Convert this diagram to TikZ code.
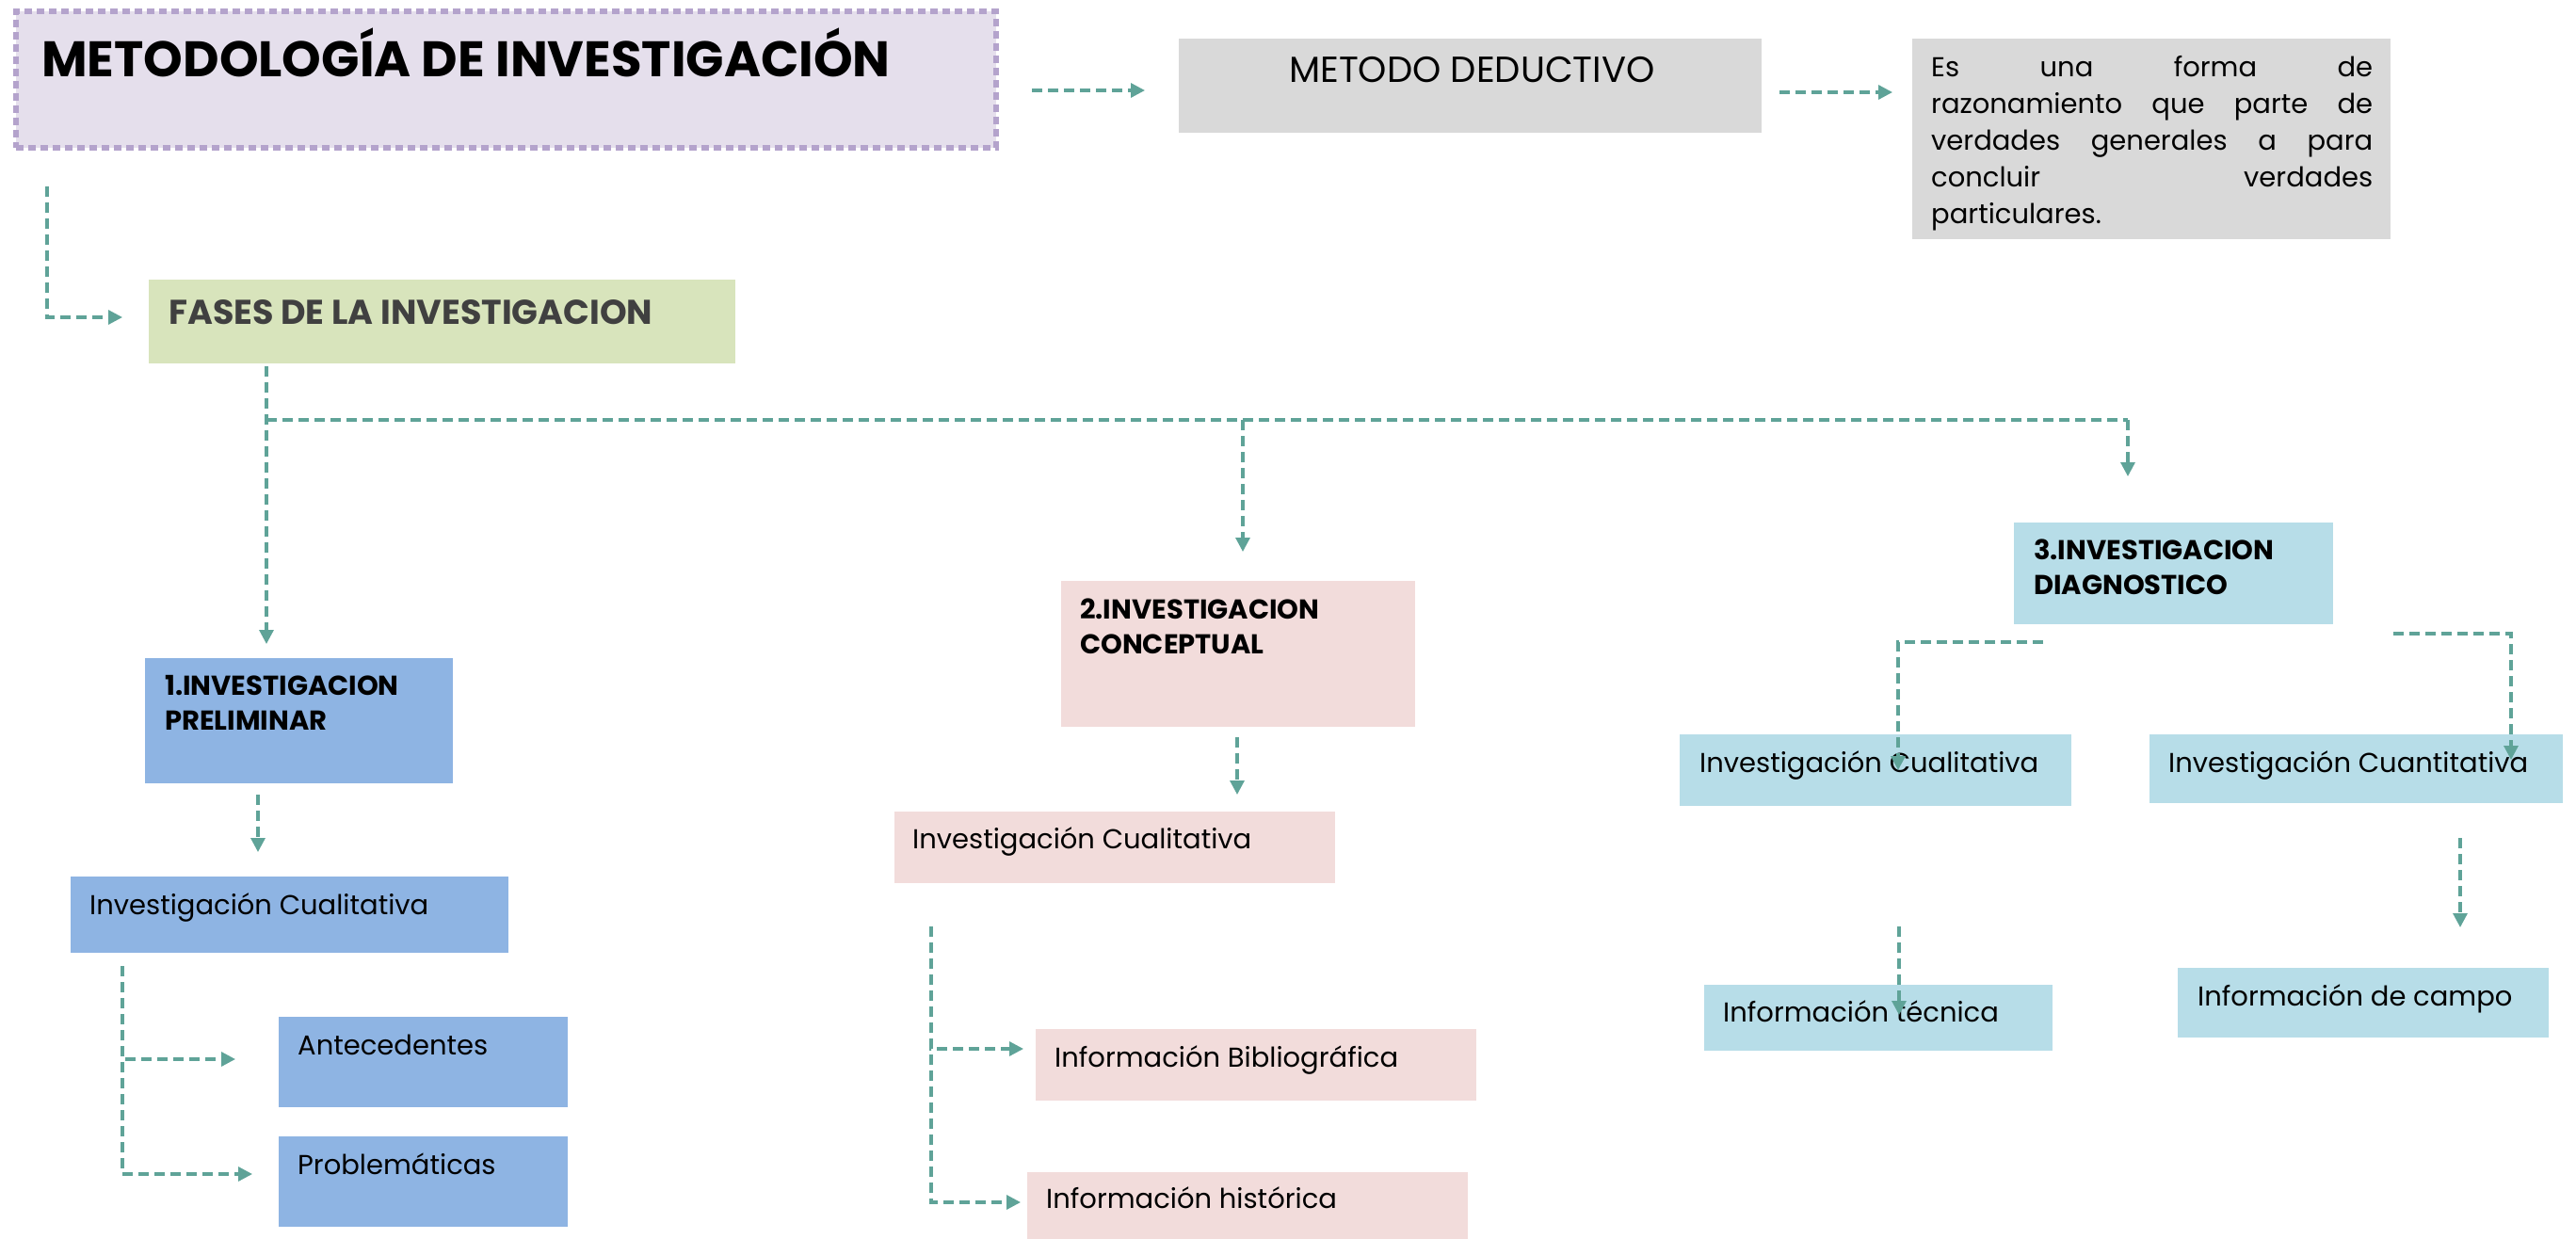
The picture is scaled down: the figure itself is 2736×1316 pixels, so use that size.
\documentclass[tikz,border=0pt]{standalone}
\usepackage{fontspec}
\setmainfont{Poppins}
\usetikzlibrary{arrows.meta}
\definecolor{teal}{RGB}{95,163,152}
\definecolor{lilac}{RGB}{229,223,236}
\definecolor{lilacb}{RGB}{180,163,204}
\definecolor{sage}{RGB}{216,228,188}
\definecolor{grayb}{RGB}{217,217,217}
\definecolor{blueb}{RGB}{142,180,227}
\definecolor{pinkb}{RGB}{242,220,219}
\definecolor{cyanb}{RGB}{183,221,232}
\tikzset{
  box/.style={anchor=north west, inner sep=0pt, outer sep=0pt, draw=none},
  txt/.style={anchor=base west, inner sep=0pt, font=\fontsize{29}{35}\selectfont},
  btxt/.style={anchor=base west, inner sep=0pt, align=left, font=\fontsize{29}{37}\selectfont\bfseries},
  conn/.style={draw=teal, line width=3.2pt, dash pattern=on 11pt off 6pt, -{Triangle[length=15pt,width=15pt]}},
  connl/.style={draw=teal, line width=3.2pt, dash pattern=on 11pt off 6pt},
}
\begin{document}
\begin{tikzpicture}[x=1pt,y=-1pt]
\useasboundingbox (0,0) rectangle (2736,1316);
% title
\node[box, fill=lilac, draw=lilacb, line width=6pt, dash pattern=on 8pt off 5pt, minimum width=1041pt, minimum height=145pt] (title) at (17,12) {};
\node[anchor=base west, inner sep=0pt, font=\fontsize{53}{60}\selectfont\bfseries] (titlet) at (44,82) {METODOLOGÍA DE INVESTIGACIÓN};
% metodo deductivo
\node[box, fill=grayb, minimum width=619pt, minimum height=100pt] (md) at (1252,41) {};
\node[anchor=base west, inner sep=0pt, font=\fontsize{38.5}{40}\selectfont] (mdt) at (1369,88) {METODO DEDUCTIVO};
\node[box, fill=grayb, minimum width=508pt, minimum height=213pt] (es) at (2031,41) {};
\node[anchor=base west, inner sep=0pt, text width=469pt, align=left, font=\fontsize{29}{39}\selectfont] (est) at (2051,82) {Es\hfill una\hfill forma\hfill de\\ razonamiento\hfill que\hfill parte\hfill de\\ verdades\hfill generales\hfill a\hfill para\\ concluir\hfill verdades\\ particulares.};
% fases
\node[box, fill=sage, minimum width=623pt, minimum height=89pt] (fases) at (158,297) {};
\node[anchor=base west, inner sep=0pt, font=\fontsize{36.5}{40}\selectfont\bfseries, text=black!75] (fasest) at (179,344) {FASES DE LA INVESTIGACION};
% column 1
\node[box, fill=blueb, minimum width=327pt, minimum height=133pt] (p1) at (154,699) {};
\node[btxt] (p1t) at (175,775) {1.INVESTIGACION\\PRELIMINAR};
\node[box, fill=blueb, minimum width=465pt, minimum height=81pt] (c1) at (75,931) {};
\node[txt] (c1t) at (95,971) {Investigación Cualitativa};
\node[box, fill=blueb, minimum width=307pt, minimum height=96pt] (ant) at (296,1080) {};
\node[txt] (antt) at (316,1120) {Antecedentes};
\node[box, fill=blueb, minimum width=307pt, minimum height=96pt] (prob) at (296,1207) {};
\node[txt] (probt) at (316,1247) {Problemáticas};
% column 2
\node[box, fill=pinkb, minimum width=376pt, minimum height=155pt] (p2) at (1127,617) {};
\node[btxt] (p2t) at (1147,694) {2.INVESTIGACION\\CONCEPTUAL};
\node[box, fill=pinkb, minimum width=468pt, minimum height=76pt] (c2) at (950,862) {};
\node[txt] (c2t) at (969,901) {Investigación Cualitativa};
\node[box, fill=pinkb, minimum width=468pt, minimum height=76pt] (bib) at (1100,1093) {};
\node[txt] (bibt) at (1120,1133) {Información Bibliográfica};
\node[box, fill=pinkb, minimum width=468pt, minimum height=71pt] (his) at (1091,1245) {};
\node[txt] (hist) at (1111,1283) {Información histórica};
% column 3
\node[box, fill=cyanb, minimum width=339pt, minimum height=108pt] (p3) at (2139,555) {};
\node[btxt] (p3t) at (2160,631) {3.INVESTIGACION\\DIAGNOSTICO};
\node[box, fill=cyanb, minimum width=416pt, minimum height=76pt] (c3) at (1784,780) {};
\node[txt] (c3t) at (1805,820) {Investigación Cualitativa};
\node[box, fill=cyanb, minimum width=439pt, minimum height=73pt] (q3) at (2283,780) {};
\node[txt] (q3t) at (2303,820) {Investigación Cuantitativa};
\node[box, fill=cyanb, minimum width=370pt, minimum height=70pt] (tec) at (1810,1046) {};
\node[txt] (tect) at (1830,1085) {Información técnica};
\node[box, fill=cyanb, minimum width=394pt, minimum height=74pt] (cam) at (2313,1028) {};
\node[txt] (camt) at (2334,1068) {Información de campo};
% connector coordinates
\coordinate (a1s) at (1096,96); \coordinate (a1e) at (1216,96);
\coordinate (a2s) at (1890,98); \coordinate (a2e) at (2010,98);
\coordinate (tfs) at (50,198); \coordinate (tfe) at (130,337);
\coordinate (fs) at (283,389); \coordinate (f1e) at (283,684);
\coordinate (hb) at (283,446); \coordinate (f2e) at (1320,586); \coordinate (f3e) at (2260,506);
\coordinate (p1s) at (274,844); \coordinate (p1e) at (274,905);
\coordinate (c1s) at (130,1026); \coordinate (anta) at (250,1125); \coordinate (proba) at (268,1247);
\coordinate (p2s) at (1314,783); \coordinate (p2e) at (1314,844);
\coordinate (c2s) at (989,984); \coordinate (biba) at (1087,1114); \coordinate (hisa) at (1084,1277);
\coordinate (l3s) at (2170,682); \coordinate (l3e) at (2016,818);
\coordinate (r3s) at (2542,673); \coordinate (r3e) at (2667,807);
\coordinate (t3s) at (2017,984); \coordinate (t3e) at (2017,1078);
\coordinate (k3s) at (2613,890); \coordinate (k3e) at (2613,985);
% connectors
\draw[conn] (a1s) -- (a1e);
\draw[conn] (a2s) -- (a2e);
\draw[conn] (tfs) |- (tfe);
\draw[conn] (fs) -- (f1e);
\draw[connl] (hb) -- (f3e |- hb);
\draw[conn] (f2e |- hb) -- (f2e);
\draw[conn] (f3e |- hb) -- (f3e);
\draw[conn] (p1s) -- (p1e);
\draw[conn] (c1s) |- (anta);
\draw[conn] (c1s) |- (proba);
\draw[conn] (p2s) -- (p2e);
\draw[conn] (c2s) |- (biba);
\draw[conn] (c2s) |- (hisa);
\draw[conn] (l3s) -| (l3e);
\draw[conn] (r3s) -| (r3e);
\draw[conn] (t3s) -- (t3e);
\draw[conn] (k3s) -- (k3e);
\end{tikzpicture}
\end{document}
